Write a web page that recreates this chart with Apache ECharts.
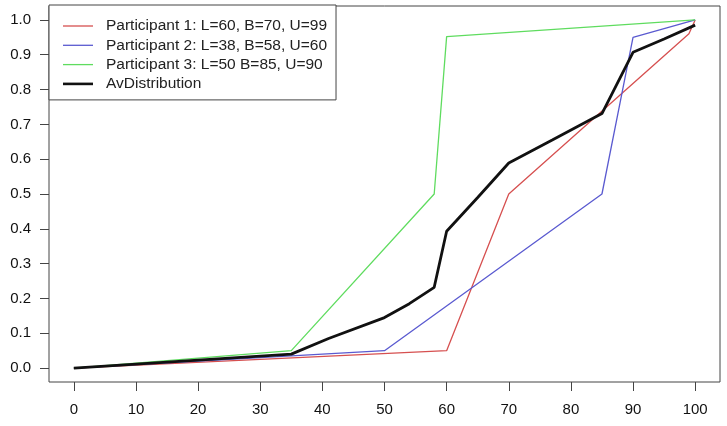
<!DOCTYPE html>
<html>
<head>
<meta charset="utf-8">
<script src="https://cdn.jsdelivr.net/npm/echarts@6/dist/echarts.min.js"></script>
<style>
  html, body { margin: 0; padding: 0; background: #fff; }
  #chart { width: 727px; height: 426px; }
</style>
</head>
<body>
<div id="chart"></div>
<script>
// values: [x, cumulative probability]
var p1 = [[0, 0], [60, 0.05], [70, 0.5], [99, 0.96], [100, 1.0]];
var p2 = [[0, 0], [50, 0.05], [85, 0.5], [90, 0.95], [100, 1.0]];
var p3 = [[0, 0], [35, 0.05], [58, 0.5], [60, 0.952], [100, 1.0]];
var avDist = [[0, 0], [35, 0.04], [41, 0.085], [50, 0.145], [54, 0.185], [58, 0.232], [60, 0.393],
  [65, 0.49], [70, 0.589], [77, 0.655], [85, 0.731], [90, 0.907], [95, 0.945], [100, 0.985]];

var xTicks = [0, 10, 20, 30, 40, 50, 60, 70, 80, 90, 100];
var yTicks = [0, 0.1, 0.2, 0.3, 0.4, 0.5, 0.6, 0.7, 0.8, 0.9, 1.0];

var names = ['Participant 1: L=60, B=70, U=99', 'Participant 2: L=38, B=58, U=60',
  'Participant 3: L=50 B=85, U=90', 'AvDistribution'];

var font = 'Liberation Sans, Arial, sans-serif';
var thinIcon = 'path://M0,0L30,0L30,1.3L0,1.3Z';
var thickIcon = 'path://M0,0L30,0L30,2.6L0,2.6Z';
var myChart = echarts.init(document.getElementById('chart'));

function line(name, data, color, width) {
    return {
        name: name,
        type: 'line',
        data: data,
        symbol: 'none',
        animation: false,
        lineStyle: { color: color, width: width },
        itemStyle: { color: color }
    };
}

myChart.setOption({
    animation: false,
    grid: {
        left: 49, right: 7, top: 6, bottom: 44,
        show: true,
        borderColor: '#444',
        borderWidth: 1
    },
    xAxis: {
        type: 'value',
        min: -4, max: 104,
        axisLine: { show: false, onZero: false },
        axisTick: { show: true, length: 9, lineStyle: { color: '#444' }, customValues: xTicks },
        axisLabel: { customValues: xTicks, color: '#111', fontSize: 15, fontFamily: font, margin: 20 },
        splitLine: { show: false }
    },
    yAxis: {
        type: 'value',
        min: -0.04, max: 1.04,
        axisLine: { show: false, onZero: false },
        axisTick: { show: true, length: 9, lineStyle: { color: '#444' }, customValues: yTicks },
        axisLabel: {
            customValues: yTicks, color: '#111', fontSize: 15, fontFamily: font, margin: 18,
            formatter: function (v) { return v.toFixed(1); }
        },
        splitLine: { show: false }
    },
    legend: {
        data: [
            { name: names[0], icon: thinIcon },
            { name: names[1], icon: thinIcon },
            { name: names[2], icon: thinIcon },
            { name: names[3], icon: thickIcon }
        ],
        orient: 'vertical',
        left: 49, top: 5,
        padding: [13, 9, 8, 14],
        itemWidth: 30, itemHeight: 14, itemGap: 3.3,
        backgroundColor: '#fff',
        borderColor: '#444', borderWidth: 1, borderRadius: 0,
        textStyle: { color: '#222', fontSize: 15.5, fontFamily: font, lineHeight: 14, padding: [0, 0, 0, 8] }
    },
    series: [
        line(names[0], p1, '#d65050', 1.3),
        line(names[1], p2, '#5a5ad0', 1.3),
        line(names[2], p3, '#5fdc5f', 1.3),
        line(names[3], avDist, '#111', 2.8)
    ]
});
window.onresize = myChart.resize;
</script>
</body>
</html>
